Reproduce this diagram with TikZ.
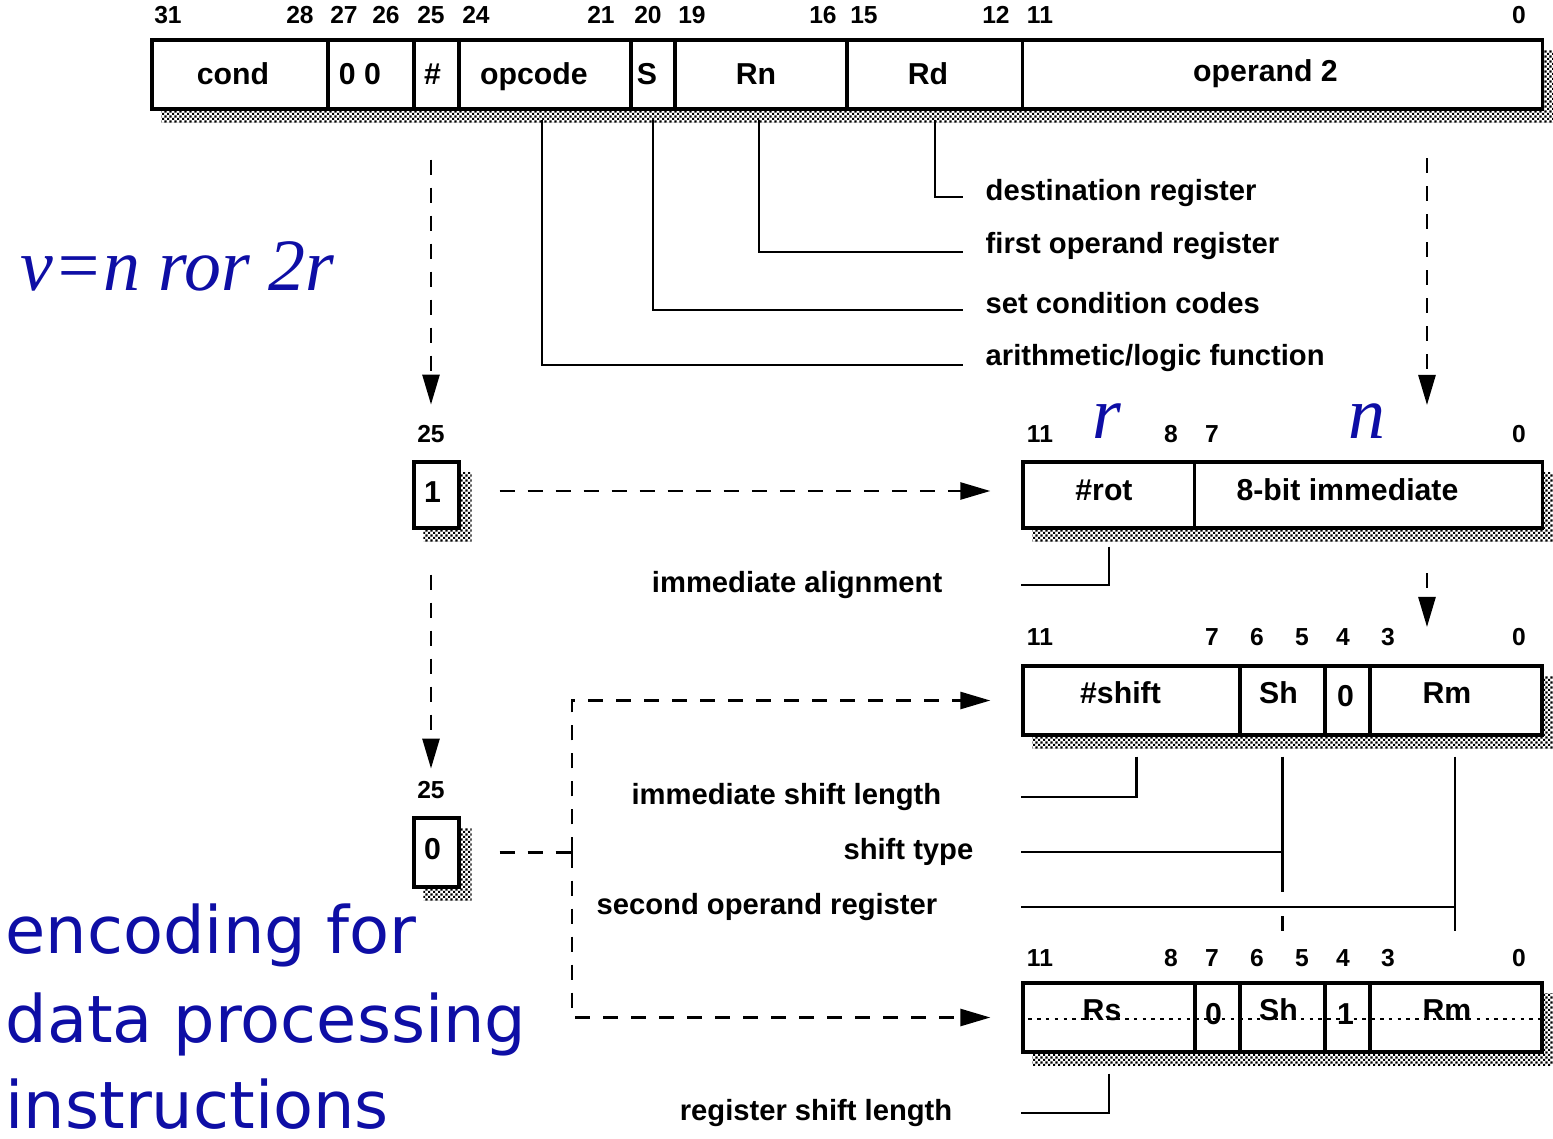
\documentclass[tikz,border=0pt]{standalone}
\usepackage{fontspec}
\setmainfont{Liberation Sans}
\newfontfamily\serifit{Liberation Serif}
\newfontfamily\slidefont{DejaVu Sans}
\usetikzlibrary{positioning,arrows.meta,calc,patterns,backgrounds}
\definecolor{slideblue}{RGB}{14,14,165}

\pgfdeclarepatternformonly{finedots}{\pgfqpoint{0pt}{0pt}}{\pgfqpoint{1.4pt}{1.4pt}}{\pgfqpoint{1.4pt}{1.4pt}}{%
  \pgfpathrectangle{\pgfqpoint{0pt}{0pt}}{\pgfqpoint{0.6pt}{0.6pt}}%
  \pgfpathrectangle{\pgfqpoint{0.7pt}{0.7pt}}{\pgfqpoint{0.6pt}{0.6pt}}%
  \pgfusepath{fill}}

\begin{document}
\begin{tikzpicture}[
  x=0.01cm, y=-0.01cm,
  fld/.style={draw, line width=0.9pt, fill=white, inner sep=0pt,
              minimum height=0.69cm, text height=0.22cm, text depth=#1,
              font=\fontsize{8.6}{10}\selectfont\bfseries},
  fld/.default=0.03cm,
  nudge/.style={execute at end node={\hspace*{#1}}},
  bitno/.style={font=\fontsize{7}{8}\selectfont\bfseries, inner sep=0pt},
  desc/.style={font=\fontsize{8.3}{10}\selectfont\bfseries, inner sep=0pt},
  leader/.style={line width=0.75pt},
  dsh/.style={line width=0.75pt, dash pattern=on 0.15cm off 0.13cm},
  tip/.style={-{Triangle[length=0.3cm,width=0.17cm]}},
  shade/.style={pattern=finedots},
  slide/.style={text=slideblue, inner sep=0pt, anchor=base west,
                font=\slidefont\fontsize{18.6}{25}\selectfont},
  sym/.style={text=slideblue, inner sep=0pt,
              font=\serifit\itshape\fontsize{21}{24}\selectfont}
]
\useasboundingbox (0,0) rectangle (1553,1139);

% Instruction word
\node[fld, nudge=0.14cm, minimum width=1.76cm] (tCond) at (240,74.5) {cond};
\node[fld, nudge=0.22cm, minimum width=0.86cm] (tZero) at (371,74.5) {0 0};
\node[fld, nudge=0.08cm, minimum width=0.45cm] (tHash) at (436.5,74.5) {\#};
\node[fld, nudge=0.22cm, minimum width=1.72cm] (tOpc) at (545,74.5) {opcode};
\node[fld, nudge=0.12cm, minimum width=0.44cm] (tS) at (653,74.5) {S};
\node[fld, nudge=0.10cm, minimum width=1.72cm] (tRn) at (761,74.5) {Rn};
\node[fld, nudge=0.14cm, minimum width=1.76cm] (tRd) at (935,74.5) {Rd};
\node[fld=0.09cm, nudge=0.34cm, minimum width=5.19cm] (tOp) at (1282.5,74.5) {operand 2};

\foreach \x/\b in {168/31,300/28,344/27,386/26,431/25,476/24,601/21,648/20,
                   692/19,823/16,864/15,996/12,1040/11,1519/0}
  \node[bitno] (ta\b) at (\x,15) {\b};

% Bit 25 boxes
\node[bitno] (ra25) at (431,434) {25};
\node[fld=0.08cm, nudge=0.08cm, minimum width=0.45cm, minimum height=0.66cm] (bOne) at (436.5,495) {1};
\node[bitno] (rb25) at (431,790) {25};
\node[fld=0.09cm, nudge=0.08cm, minimum width=0.45cm] (bZero) at (436.5,852.5) {0};

% Immediate operand
\node[fld=0.12cm, nudge=0.10cm, minimum width=1.72cm, minimum height=0.66cm] (rRot) at (1109,495) {\#rot};
\node[fld=0.12cm, nudge=0.42cm, minimum width=3.47cm, minimum height=0.66cm] (rImm) at (1368.5,495) {8-bit immediate};
\foreach \x/\b in {1040/11,1171/8,1212/7,1519/0}
  \node[bitno] (rr\b) at (\x,434) {\b};
\node[sym] (rSym) at (1107,421) {r};
\node[sym] (nSym) at (1367,421) {n};

% Register, immediate shift
\node[fld=0.17cm, nudge=0.22cm, minimum width=2.17cm] (sAmt) at (1131.5,700.5) {\#shift};
\node[fld=0.17cm, nudge=0.08cm, minimum width=0.85cm] (sSh) at (1282.5,700.5) {Sh};
\node[fld=0.11cm, nudge=0.04cm, minimum width=0.45cm] (sZero) at (1347.5,700.5) {0};
\node[fld=0.17cm, nudge=0.18cm, minimum width=1.72cm] (sRm) at (1456,700.5) {Rm};
\foreach \x/\b in {1040/11,1212/7,1257/6,1302/5,1343/4,1388/3,1519/0}
  \node[bitno] (rs\b) at (\x,637) {\b};

% Register, register shift
\node[fld=0.17cm, nudge=0.14cm, minimum width=1.72cm] (qRs) at (1109,1017.5) {Rs};
\node[fld=0.09cm, nudge=0.08cm, minimum width=0.45cm] (qZero) at (1217.5,1017.5) {0};
\node[fld=0.17cm, nudge=0.08cm, minimum width=0.85cm] (qSh) at (1282.5,1017.5) {Sh};
\node[fld=0.09cm, nudge=0.04cm, minimum width=0.45cm] (qOne) at (1347.5,1017.5) {1};
\node[fld=0.17cm, nudge=0.18cm, minimum width=1.72cm] (qRm) at (1456,1017.5) {Rm};
\foreach \x/\b in {1040/11,1171/8,1212/7,1257/6,1302/5,1343/4,1388/3,1519/0}
  \node[bitno] (rq\b) at (\x,958) {\b};
\draw[line width=0.4pt, dash pattern=on 1pt off 1.5pt]
  ($(qRs.west)+(7,1.5)$) -- ($(qRm.east)+(-2,1.5)$);

% Shadows
\begin{scope}[on background layer]
\fill[shade] ($(tCond.north west)+(11,12)$) rectangle ($(tOp.south east)+(11,12)$);
\fill[shade] ($(bOne.north west)+(11,12)$) rectangle ($(bOne.south east)+(11,12)$);
\fill[shade] ($(bZero.north west)+(11,12)$) rectangle ($(bZero.south east)+(11,12)$);
\fill[shade] ($(rRot.north west)+(11,12)$) rectangle ($(rImm.south east)+(11,12)$);
\fill[shade] ($(sAmt.north west)+(11,12)$) rectangle ($(sRm.south east)+(11,12)$);
\fill[shade] ($(qRs.north west)+(11,12)$) rectangle ($(qRm.south east)+(11,12)$);
\end{scope}

% Field descriptions
\node[desc, anchor=west] (dDest) at (985,193) {destination register};
\node[desc, anchor=west] (dFirst) at (985,246) {first operand register};
\node[desc, anchor=west] (dSet) at (985,303) {set condition codes};
\node[desc, anchor=west] (dAlu) at (985,358) {arithmetic/logic function};
\node[desc, anchor=east] (dAlign) at (943,585) {immediate alignment};
\node[desc, anchor=east] (dShAmt) at (942,797) {immediate shift length};
\node[desc, anchor=east] (dShType) at (974,852) {shift type};
\node[desc, anchor=east] (dRm) at (938,907) {second operand register};
\node[desc, anchor=east] (dRs) at (953,1113) {register shift length};

% Leaders
\draw[leader] ($(tRd.south)+(0,9)$) |- ($(dDest.west)+(-22,4)$);
\draw[leader] ($(tRn.south)+(-2,9)$) |- ($(dFirst.west)+(-22,6)$);
\draw[leader] ($(tS.south)+(0,9)$) |- ($(dSet.west)+(-22,7)$);
\draw[leader] ($(tOpc.south)+(-3,9)$) |- ($(dAlu.west)+(-22,7)$);
\draw[leader] ($(rRot.south)+(0,17)$) |- (dAlign.east -| rRot.west);
\draw[leader] ($(sAmt.south)+(5,20)$) |- (dShAmt.east -| sAmt.west);
\draw[leader] ($(sSh.south)+(0,20)$) -- ($(sSh.south)+(0,155)$);
\draw[leader] (dShType.east -| sAmt.west) -- (dShType.east -| sSh.south);
\draw[leader] ($(qSh.north)+(0,-65)$) -- ($(qSh.north)+(0,-50)$);
\draw[leader] ($(sRm.south)+(-1,20)$) -- ($(qRm.north)+(-1,-50)$);
\draw[leader] (dRm.east -| sAmt.west) -- ($(dRm.east -| sRm.south)+(-1,0)$);
\draw[leader] ($(qRs.south)+(0,20)$) |- (dRs.east -| qRs.west);

% Dashed flow
\coordinate (opTop) at (1427,158);
\coordinate (opEnd) at (1427,405);
\coordinate (opMid) at (1427,573);
\coordinate (opLow) at (1427,627);
\coordinate (split) at (572,852.5);
\draw[dsh, tip] ($(tHash.south -| ra25.north)+(0,49)$) -- ($(ra25.north)+(0,-20)$);
\draw[dsh, tip] (opTop) -- (opEnd);
\draw[dsh, tip] (opMid) -- (opLow);
\draw[dsh, tip, shorten <=0.39cm, shorten >=0.31cm]
  ($(bOne.east)+(0,-4)$) -- ($(rRot.west)+(0,-4)$);
\draw[dsh, tip] ($(bOne.south -| rb25.north)+(0,45)$) -- ($(rb25.north)+(0,-12)$);
\draw[dsh, shorten <=0.39cm] (bZero.east) -- (split);
\draw[dsh, tip, shorten >=0.31cm] (split) |- (sAmt.west);
\draw[dsh, tip, shorten >=0.31cm] (split) |- (qRs.west);

% Slide annotations
\node[sym, anchor=base west] (vRule) at (20,290) {v=n ror 2r};
\node[slide] (title1) at (5,953) {encoding for};
\node[slide] (title2) at (5,1042) {data processing};
\node[slide] (title3) at (5,1128) {instructions};

\end{tikzpicture}
\end{document}
